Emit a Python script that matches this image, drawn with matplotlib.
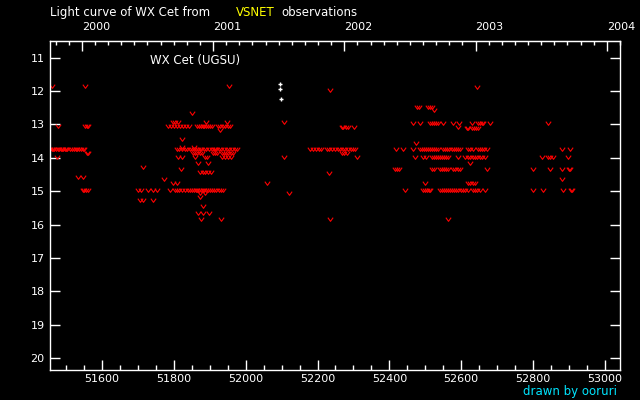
import matplotlib
matplotlib.use('Agg')
import matplotlib.pyplot as plt
from matplotlib.path import Path
from matplotlib.ticker import MultipleLocator, FixedLocator, NullLocator

# ---------------- data (MJD, visual magnitude) ----------------
# positive detections (white +)
pos_mjd = [52097, 52097, 52099]
pos_mag = [11.80, 11.94, 12.24]

# upper limits ("fainter than", red v), grouped by season: magnitude -> list of MJD
season_1999 = {
    11.86: [51460, 51553],
    13.06: [51478, 51554, 51558, 51562],
    13.75: [51456, 51460, 51464, 51468, 51472, 51477, 51481, 51485, 51489, 51492,
            51496, 51500, 51504, 51512, 51517, 51522, 51527, 51532, 51537, 51541,
            51546, 51551],
    13.85: [51558, 51562],
    13.97: [51474],
    14.57: [51534, 51548],
    14.95: [51546, 51551, 51556, 51561],
}

season_2000 = {
    11.86: [51953],
    12.66: [51851],
    12.94: [51797, 51803, 51811, 51889, 51948],
    13.06: [51784, 51792, 51800, 51808, 51817, 51825, 51833, 51841,
            51864, 51870, 51875, 51880, 51885, 51890, 51895, 51900, 51906,
            51923, 51930, 51936, 51942, 51950, 51956],
    13.16: [51928],
    13.45: [51822],
    13.68: [51822, 51856],
    13.75: [51809, 51815, 51822, 51830, 51838, 51845, 51850, 51856, 51862, 51867,
            51872, 51877, 51883, 51890, 51897, 51905, 51912, 51914, 51918, 51925,
            51932, 51940, 51948, 51955, 51962, 51970, 51976],
    13.85: [51853, 51860, 51866, 51872, 51878, 51909, 51915, 51920,
            51934, 51940, 51946, 51952, 51958, 51964],
    13.97: [51811, 51822, 51858, 51887, 51893, 51934, 51942, 51950, 51958],
    14.15: [51867, 51895],
    14.27: [51714],
    14.35: [51820],
    14.42: [51873, 51880, 51888, 51896, 51903],
    14.65: [51772],
    14.75: [51797, 51809],
    14.95: [51700, 51710, 51728, 51742, 51753, 51789, 51803, 51809, 51815, 51822,
            51830, 51840, 51845, 51850, 51856, 51862, 51866, 51870, 51875, 51880,
            51885, 51890, 51895, 51900, 51906, 51912, 51918, 51925, 51931, 51936],
    15.05: [51873, 51887],
    15.16: [51873],
    15.25: [51706, 51715, 51741],
    15.45: [51881],
    15.66: [51867, 51881, 51897],
    15.84: [51876, 51931],
}

season_2001 = {
    11.96: [52234],
    12.94: [52106],
    13.07: [52267, 52272, 52278, 52284, 52302],
    13.75: [52179, 52187, 52195, 52204, 52211, 52226, 52233, 52240, 52248, 52256,
            52263, 52270, 52277, 52285, 52292, 52298, 52304],
    13.85: [52268, 52275, 52282],
    13.97: [52106, 52309],
    14.45: [52232],
    14.75: [52060],
    15.04: [52121],
    15.84: [52234],
}

season_2002 = {
    11.88: [52644],
    12.48: [52476, 52482, 52507, 52512, 52518],
    12.56: [52524],
    12.96: [52465, 52485, 52513, 52518, 52524, 52530, 52535, 52549, 52576, 52593,
            52629, 52646, 52652, 52657, 52660, 52679],
    13.07: [52590],
    13.12: [52615, 52620, 52629, 52635, 52641, 52647],
    13.55: [52474],
    13.75: [52418, 52437, 52465, 52485, 52490, 52496, 52502, 52508, 52513, 52519,
            52524, 52530, 52535, 52549, 52555, 52561, 52567, 52573, 52579, 52585,
            52591, 52596, 52618, 52624, 52632, 52646, 52652, 52658, 52664, 52671],
    13.97: [52471, 52493, 52502, 52518, 52524, 52530, 52535, 52540, 52546, 52552,
            52558, 52563, 52590, 52610, 52618, 52624, 52632, 52638, 52645, 52652,
            52658, 52666],
    14.15: [52624],
    14.35: [52415, 52421, 52426, 52518, 52524, 52540, 52546, 52552, 52558, 52563,
            52576, 52582, 52590, 52596, 52671],
    14.75: [52499, 52618, 52624, 52632, 52638],
    14.95: [52443, 52493, 52499, 52504, 52510, 52513, 52540, 52546, 52552, 52558,
            52563, 52568, 52574, 52580, 52586, 52592, 52598, 52604, 52610, 52618,
            52632, 52638, 52645, 52652, 52666],
    15.84: [52562],
}

season_2003 = {
    12.96: [52842],
    13.75: [52880, 52902],
    13.97: [52824, 52841, 52848, 52855, 52896],
    14.35: [52799, 52846, 52880, 52900, 52904],
    14.65: [52880],
    14.95: [52799, 52828, 52882, 52905, 52909],
}

bottom_ticks = [51600, 51800, 52000, 52200, 52400, 52600, 52800, 53000]
year_ticks = [2000, 2001, 2002, 2003, 2004]
mag_ticks = list(range(11, 21))

# ---------------- plotting ----------------
lim_mjd, lim_mag = [], []
for season in (season_1999, season_2000, season_2001, season_2002, season_2003):
    for mag, mjds in season.items():
        lim_mjd.extend(mjds)
        lim_mag.extend([mag] * len(mjds))

fig = plt.figure(figsize=(6.4, 4.0), dpi=100, facecolor='black')
ax = fig.add_axes([0.0784, 0.075, 0.891, 0.823], facecolor='black')

vmark = Path([(-1.0, 0.7), (0.0, -0.7), (1.0, 0.7)],
             [Path.MOVETO, Path.LINETO, Path.LINETO])
ax.plot(lim_mjd, lim_mag, linestyle='none', marker=vmark, markersize=3.8,
        markerfacecolor='none', markeredgecolor='#ff0000', markeredgewidth=0.8)
ax.plot(pos_mjd, pos_mag, linestyle='none', marker='+', markersize=3.0,
        markeredgecolor='white', markeredgewidth=1.0)

ax.set_xlim(51456, 53043)
ax.set_ylim(20.35, 10.5)

for sp in ax.spines.values():
    sp.set_color('white')
    sp.set_linewidth(1.0)

ax.xaxis.set_major_locator(FixedLocator(bottom_ticks))
ax.xaxis.set_minor_locator(MultipleLocator(50))
ax.yaxis.set_major_locator(FixedLocator(mag_ticks))
ax.yaxis.set_minor_locator(NullLocator())

ax.tick_params(axis='x', which='major', direction='in', length=7.5, width=1,
               colors='white', labelsize=8, pad=3, top=False, bottom=True)
ax.tick_params(axis='x', which='minor', direction='in', length=3.5, width=1,
               colors='white', top=False, bottom=True)
ax.tick_params(axis='y', which='major', direction='in', length=7.5, width=1,
               colors='white', labelsize=8, pad=4, left=True, right=True,
               labelright=False)


def mjd2yr(m):
    return 2000.0 + (m - 51544.0) / 365.25


def yr2mjd(y):
    return 51544.0 + (y - 2000.0) * 365.25


secax = ax.secondary_xaxis('top', functions=(mjd2yr, yr2mjd))
secax.xaxis.set_major_locator(FixedLocator(year_ticks))
secax.xaxis.set_minor_locator(MultipleLocator(0.1))
secax.tick_params(axis='x', which='major', direction='in', length=7.5, width=1,
                  colors='white', labelsize=8, pad=6)
secax.tick_params(axis='x', which='minor', direction='in', length=2.8, width=1,
                  colors='white')
secax.spines['top'].set_color('white')
for lab in secax.get_xticklabels():
    lab.set_horizontalalignment('left')

ax.text(0.175, 0.941, 'WX Cet (UGSU)', transform=ax.transAxes, color='white',
        fontsize=8.5, ha='left', va='center')

fig.text(0.0784, 0.968, 'Light curve of WX Cet from', color='white',
         fontsize=8.5, ha='left', va='center')
fig.text(0.369, 0.968, 'VSNET', color='yellow', fontsize=8.5, ha='left',
         va='center')
fig.text(0.44, 0.968, 'observations', color='white', fontsize=8.5, ha='left',
         va='center')
fig.text(0.964, 0.022, 'drawn by ooruri', color='#00e5ff', fontsize=8.5,
         ha='right', va='center')

fig.savefig('out.png', dpi=100, facecolor='black')
